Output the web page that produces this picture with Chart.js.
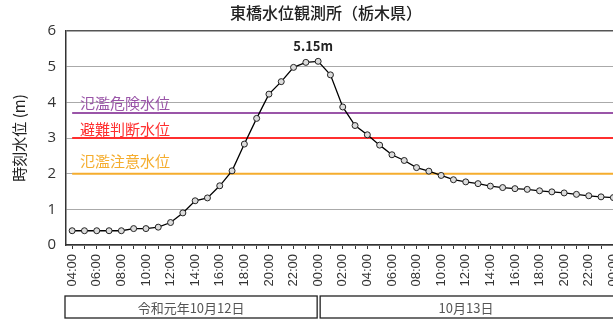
<!DOCTYPE html>
<html lang="ja">
<head>
    <meta charset="UTF-8">
    <title>東橋水位観測所（栃木県）</title>
    <script src="https://cdn.jsdelivr.net/npm/chart.js"></script>
    <style>
        html, body { margin: 0; padding: 0; background: #fff; overflow: hidden; }
        #wrap { width: 634px; height: 321px; }
    </style>
</head>
<body>
    <div id="wrap"><canvas id="chart"></canvas></div>

    <script>
        // hourly readings, 12 Oct 04:00 -> 14 Oct 00:00
        const times = [
            '04:00','05:00','06:00','07:00','08:00','09:00','10:00','11:00','12:00','13:00',
            '14:00','15:00','16:00','17:00','18:00','19:00','20:00','21:00','22:00','23:00',
            '00:00','01:00','02:00','03:00','04:00','05:00','06:00','07:00','08:00','09:00',
            '10:00','11:00','12:00','13:00','14:00','15:00','16:00','17:00','18:00','19:00',
            '20:00','21:00','22:00','23:00','00:00'
        ];
        const levels = [
            0.40, 0.40, 0.40, 0.40, 0.40, 0.46, 0.46, 0.50, 0.63, 0.90,
            1.24, 1.32, 1.66, 2.08, 2.83, 3.55, 4.23, 4.58, 4.98, 5.12,
            5.15, 4.77, 3.87, 3.35, 3.09, 2.80, 2.53, 2.37, 2.17, 2.07,
            1.95, 1.83, 1.77, 1.72, 1.65, 1.61, 1.58, 1.56, 1.52, 1.49,
            1.46, 1.42, 1.38, 1.35, 1.33
        ];
        const yTicks = [0, 1, 2, 3, 4, 5, 6];

        const thresholdNames = ['氾濫危険水位', '避難判断水位', '氾濫注意水位'];
        const thresholdValues = [3.7, 3.0, 2.0];
        const thresholdColors = ['#9a55a8', '#ff2f2f', '#f5ad2e'];

        const dayLabels = ['令和元年10月12日', '10月13日'];
        const dayStarts = [0, 20];

        const peakIndex = 20;
        const peakText = '5.15m';

        const JP = '"Noto Sans CJK JP", "Noto Sans", sans-serif';

        const overlay = {
            id: 'overlay',
            beforeDatasetsDraw(chart) {
                const { ctx, chartArea, scales: { x, y } } = chart;
                ctx.save();
                thresholdValues.forEach((v, i) => {
                    const py = y.getPixelForValue(v);
                    ctx.strokeStyle = thresholdColors[i];
                    ctx.lineWidth = 2;
                    ctx.beginPath();
                    ctx.moveTo(x.getPixelForValue(0), py);
                    ctx.lineTo(chartArea.right, py);
                    ctx.stroke();
                });
                ctx.restore();
            },
            afterDraw(chart) {
                const { ctx, chartArea, scales: { x, y } } = chart;
                ctx.save();

                // title
                ctx.fillStyle = '#222';
                ctx.font = '500 16px ' + JP;
                ctx.textAlign = 'center';
                ctx.textBaseline = 'middle';
                ctx.fillText('東橋水位観測所（栃木県）', 326, 13);

                // threshold labels
                const labelOffsets = [10, 9, 12];
                ctx.textAlign = 'left';
                ctx.font = '15px ' + JP;
                thresholdValues.forEach((v, i) => {
                    ctx.fillStyle = thresholdColors[i];
                    ctx.fillText(thresholdNames[i], 80, y.getPixelForValue(v) - labelOffsets[i]);
                });

                // peak
                ctx.fillStyle = '#222';
                ctx.font = 'bold 13px ' + JP;
                ctx.textAlign = 'center';
                ctx.fillText(peakText, x.getPixelForValue(peakIndex) - 5, y.getPixelForValue(levels[peakIndex]) - 15);

                // date boxes
                ctx.strokeStyle = '#222';
                ctx.lineWidth = 1.3;
                ctx.font = '13px ' + JP;
                ctx.fillStyle = '#555';
                dayLabels.forEach((d, i) => {
                    const x0 = i === 0 ? chartArea.left - 1 : x.getPixelForValue(dayStarts[i]) + 2;
                    const x1 = i + 1 < dayStarts.length ? x.getPixelForValue(dayStarts[i + 1]) - 1 : chartArea.right + 40;
                    ctx.strokeRect(x0, 296, x1 - x0, 22);
                    const cx = i + 1 < dayStarts.length ? (x0 + x1) / 2 : 466;
                    ctx.fillText(d, cx, 308);
                });
                ctx.restore();
            }
        };

        new Chart(document.getElementById('chart'), {
            type: 'line',
            data: {
                labels: times,
                datasets: [{
                    data: levels,
                    borderColor: '#000',
                    borderWidth: 1.3,
                    pointRadius: 3,
                    pointBorderWidth: 1,
                    pointBorderColor: '#222',
                    pointBackgroundColor: '#dcdcdc',
                    tension: 0
                }]
            },
            options: {
                responsive: true,
                maintainAspectRatio: false,
                animation: false,
                layout: { padding: { top: 31, right: 2, left: 0, bottom: 0 } },
                plugins: { legend: { display: false }, tooltip: { enabled: false } },
                scales: {
                    x: {
                        offset: true,
                        afterFit: s => { s.height = 76; },
                        border: { color: '#333', width: 1.5 },
                        grid: { drawOnChartArea: false, tickLength: 4, color: '#333' },
                        ticks: {
                            autoSkip: false,
                            minRotation: 90,
                            maxRotation: 90,
                            padding: 5,
                            color: '#333',
                            font: { family: '"Liberation Sans", Arial, sans-serif', size: 13 },
                            callback: (v, i) => i % 2 === 0 ? times[i] : ''
                        }
                    },
                    y: {
                        min: 0,
                        max: 6,
                        afterFit: s => { s.width = 66; },
                        afterBuildTicks: s => { s.ticks = yTicks.map(v => ({ value: v })); },
                        border: { color: '#333', width: 1.5 },
                        grid: {
                            drawTicks: false,
                            color: c => c.tick && c.tick.value === 6 ? '#555' : '#aaa',
                            lineWidth: c => c.tick && c.tick.value === 6 ? 1.5 : 1
                        },
                        ticks: {
                            padding: 10,
                            color: '#333',
                            font: { family: '"Open Sans", sans-serif', size: 15 }
                        },
                        title: {
                            display: true,
                            text: '時刻水位 (m)',
                            color: '#222',
                            padding: { top: 10, bottom: 0 },
                            font: { family: JP, size: 15 }
                        }
                    }
                }
            },
            plugins: [overlay]
        });
    </script>
</body>
</html>
